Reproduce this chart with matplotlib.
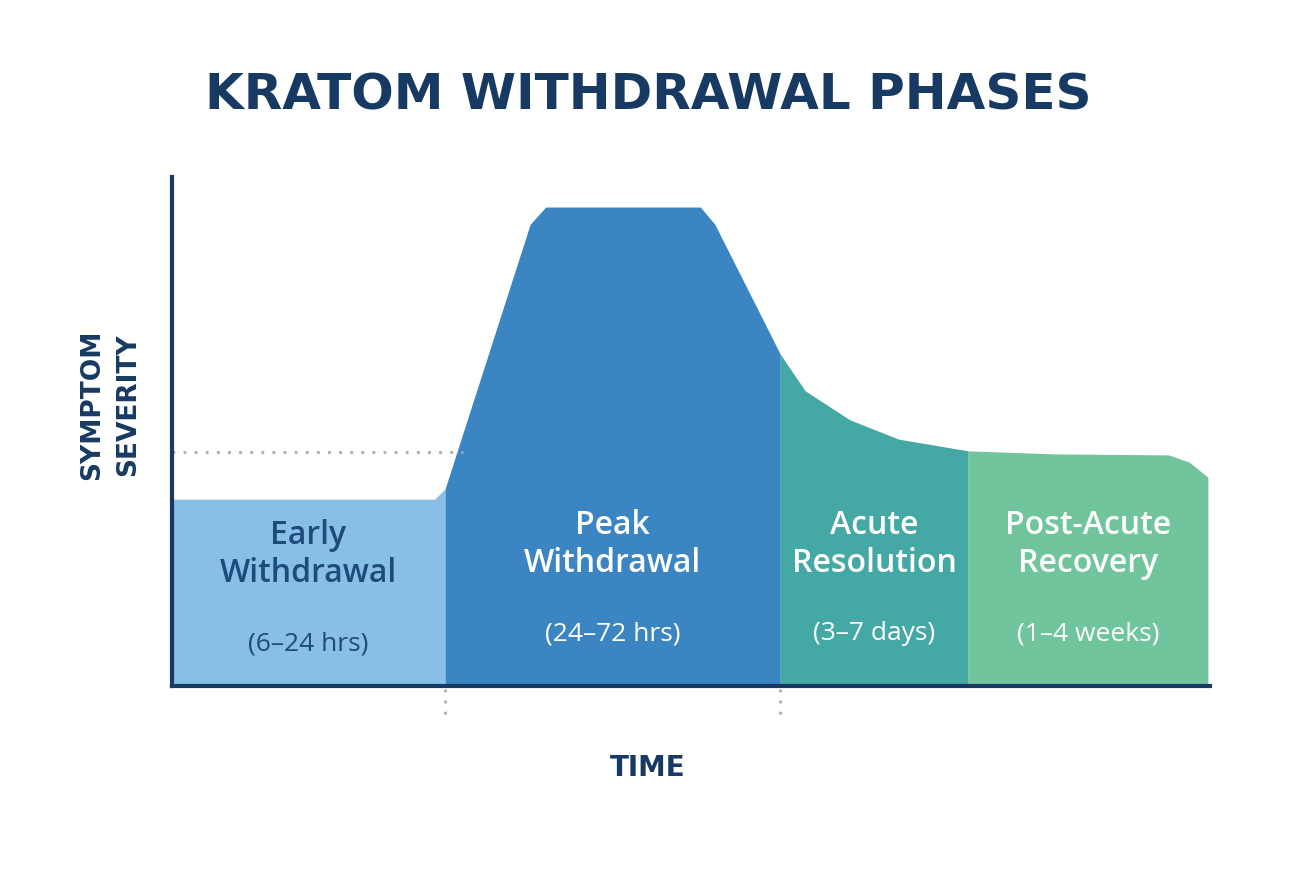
import matplotlib.pyplot as plt
import numpy as np

# time axis (arbitrary units) and symptom severity (0-10)
time_pts = [0.0, 2.53, 2.63, 3.45, 3.60, 5.09, 5.23, 5.86, 6.10, 6.53, 7.00, 7.67, 8.50, 9.60, 9.80, 9.98]
severity = [3.67, 3.67, 3.87, 9.07, 9.41, 9.41, 9.07, 6.52, 5.80, 5.23, 4.85, 4.62, 4.56, 4.54, 4.40, 4.10]

phase_edges = [0.0, 2.63, 5.86, 7.67, 9.98]
phase_colors = ["#88BFE6", "#3A85C2", "#44A8A4", "#70C59D"]
phase_labels = ["Early\nWithdrawal", "Peak\nWithdrawal", "Acute\nResolution", "Post-Acute\nRecovery"]
phase_times = ["(6–24 hrs)", "(24–72 hrs)", "(3–7 days)", "(1–4 weeks)"]
label_colors = ["#1E4A7C", "white", "white", "white"]
baseline_level = 4.6

navy = "#173A63"
fig = plt.figure(figsize=(13.05, 8.7), dpi=100)
ax = fig.add_axes([172 / 1305, 183 / 870, 1038 / 1305, 509 / 870])
ax.set_xlim(0, 10)
ax.set_ylim(0, 10)

t = np.array(time_pts)
s = np.array(severity)
for i, col in enumerate(phase_colors):
    lo, hi = phase_edges[i], phase_edges[i + 1]
    m = (t >= lo) & (t <= hi)
    ax.fill_between(t[m], 0, s[m], color=col, lw=0)

# dotted guide lines
ax.plot([0, 2.8], [baseline_level, baseline_level], ls=(0, (1, 3)), color="#AAAAAA", lw=2)
for xb in phase_edges[1:3]:
    ax.plot([xb, xb], [-0.05, -0.7], ls=(0, (1, 3)), color="#AAAAAA", lw=2, clip_on=False)

for i in range(4):
    xc = (phase_edges[i] + phase_edges[i + 1]) / 2
    y0 = 2.6 if i == 0 else 2.8
    ax.text(xc, y0, phase_labels[i], ha="center", va="center", fontsize=23,
            color=label_colors[i], family="Open Sans", weight="semibold", linespacing=1.2)
    ax.text(xc, y0 - 1.75, phase_times[i], ha="center", va="center", fontsize=19,
            color=label_colors[i], family="Open Sans")

for sp in ["top", "right"]:
    ax.spines[sp].set_visible(False)
for sp in ["left", "bottom"]:
    ax.spines[sp].set_color(navy)
    ax.spines[sp].set_linewidth(3)
ax.set_xticks([])
ax.set_yticks([])

fig.text(648 / 1305, 1 - 95 / 870, "KRATOM WITHDRAWAL PHASES", ha="center", va="center",
         fontsize=36, weight="heavy", color=navy, family="DejaVu Sans")
fig.text(110 / 1305, 1 - 405 / 870, "SYMPTOM\nSEVERITY", ha="center", va="center", rotation=90,
         fontsize=19, weight="bold", color=navy, family="DejaVu Sans", linespacing=1.5)
fig.text(648 / 1305, 1 - 768 / 870, "TIME", ha="center", va="center",
         fontsize=20, weight="bold", color=navy, family="DejaVu Sans")

fig.savefig("out.png")
